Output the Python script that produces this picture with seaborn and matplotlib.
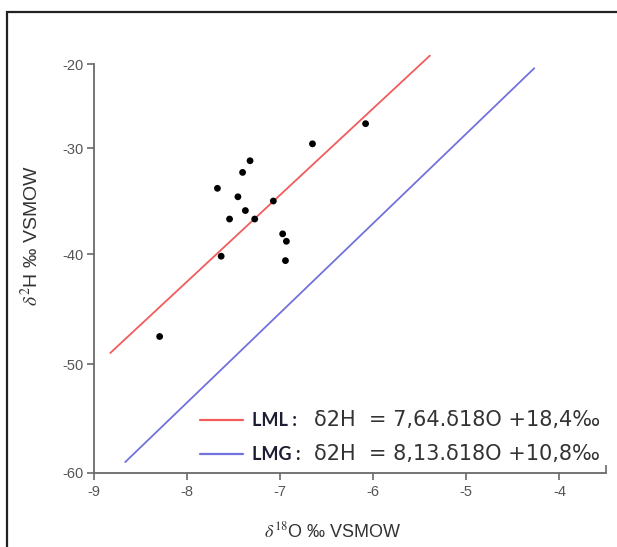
import numpy as np
import matplotlib
matplotlib.use("Agg")
import matplotlib.pyplot as plt
from matplotlib.lines import Line2D
from matplotlib.patches import Rectangle
import seaborn as sns
import pandas as pd

# ---------------- data ----------------
d18O = [-6.08, -6.65, -7.32, -7.40, -7.67, -7.45, -7.07, -7.37, -7.54, -7.27,
        -6.97, -6.93, -7.63, -6.94, -8.29]
d2H = [-27.1, -29.5, -31.2, -32.3, -33.8, -34.6, -35.0, -35.9, -36.7, -36.7,
       -38.1, -38.8, -40.2, -40.6, -47.5]

lml_x = [-8.82, -5.39]
lml_y = [-49.0, -19.0]
lmg_x = [-8.66, -4.27]
lmg_y = [-59.0, -20.5]

x_ticks = [-9, -8, -7, -6, -5, -4]
y_ticks = [-60, -50, -40, -30, -20]

legend_names = ["LML :", "LMG :"]
legend_eqs = ["δ2H  = 7,64.δ18O +18,4‰", "δ2H  = 8,13.δ18O +10,8‰"]

# ---------------- style ----------------
W, H = 617, 547
sns.set_style("ticks")
plt.rcParams["font.family"] = ["Liberation Sans", "DejaVu Sans"]
plt.rcParams["mathtext.fontset"] = "stix"

RED = "#f25c5c"
BLUE = "#7272dc"
TICKC = "#6a6a6a"

fig = plt.figure(figsize=(W / 100, H / 100), dpi=100)

def fx(px):
    return px / W

def fy(py):
    return 1 - py / H

# outer frame (left and top edges visible)
fig.patches.append(Rectangle((fx(7), fy(H + 20)), 1.2, fy(12) - fy(H + 20),
                             transform=fig.transFigure, fill=False,
                             edgecolor="#222222", linewidth=1.6))

ax = fig.add_axes([fx(93.5), fy(473), fx(606) - fx(93.5), fy(51) - fy(473)])

# y-axis scale as drawn in the reference (tick rows)
_vals = np.array([-70, -60, -50, -40, -30, -20, -10], float)
_rows = np.array([582, 473, 364, 254, 148, 64, -20], float)
def _fwd(v):
    return np.interp(v, _vals, -_rows)
def _inv(u):
    return np.interp(u, -_rows, _vals)
ax.set_yscale("function", functions=(_fwd, _inv))

lines_df = pd.DataFrame({
    "x": lml_x + lmg_x,
    "y": lml_y + lmg_y,
    "line": ["LML"] * 2 + ["LMG"] * 2,
})
sns.lineplot(data=lines_df, x="x", y="y", hue="line",
             palette={"LML": RED, "LMG": BLUE}, linewidth=1.3,
             legend=False, ax=ax, sort=False)

pts = pd.DataFrame({"d18O": d18O, "d2H": d2H})
sns.scatterplot(data=pts, x="d18O", y="d2H", color="black", s=24,
                edgecolor="none", ax=ax, zorder=5)

ax.set_xlim(-9, -3.5)
ax.set_ylim(-60, -18.45)
ax.set_xticks(x_ticks)
ax.set_yticks(y_ticks)
ax.set_xticklabels([str(t) for t in x_ticks])
ax.set_yticklabels([str(t) for t in y_ticks])
ax.set_xticks([-3.5], minor=True)
ax.set_xlabel("")
ax.set_ylabel("")

for s in ["top", "right"]:
    ax.spines[s].set_visible(False)
for s in ["left", "bottom"]:
    ax.spines[s].set_color(TICKC)
    ax.spines[s].set_linewidth(1.3)
ax.spines["left"].set_bounds(-60, -20)
ax.spines["bottom"].set_bounds(-9, -3.5)

ax.tick_params(axis="both", which="major", direction="out", length=5,
               width=1.2, color=TICKC, labelcolor="#555555", labelsize=10.5)
ax.tick_params(axis="x", which="major", pad=4)
ax.tick_params(axis="y", which="major", pad=2)
ax.tick_params(axis="x", which="minor", direction="in", length=6,
               width=1.2, color=TICKC)
ax.tick_params(axis="y", which="minor", left=False)
ax.patch.set_alpha(0)

# axis titles
fig.text(fx(333), fy(531), r"$\delta^{18}$O ‰ VSMOW", ha="center",
         va="center", fontsize=13, color="#333333")
fig.text(fx(31), fy(236), r"$\delta^{2}$H ‰ VSMOW", ha="center",
         va="center", rotation=90, fontsize=14, color="#333333")

# legend block
for i, (name, eq, col) in enumerate(zip(legend_names, legend_eqs, [RED, BLUE])):
    yy = [420, 454][i]
    fig.lines.append(Line2D([fx(200), fx(243)], [fy(yy), fy(yy)],
                            transform=fig.transFigure, color=col,
                            linewidth=1.6))
    fig.text(fx(252), fy(yy), name, ha="left", va="center", fontsize=13,
             fontweight="bold", family=["Lato", "DejaVu Sans"],
             color="#1d1d33")
    fig.text(fx(314), fy(yy), eq, ha="left", va="center", fontsize=15,
             family=["DejaVu Sans"], color="#333333")

fig.savefig("out.png", dpi=100)
